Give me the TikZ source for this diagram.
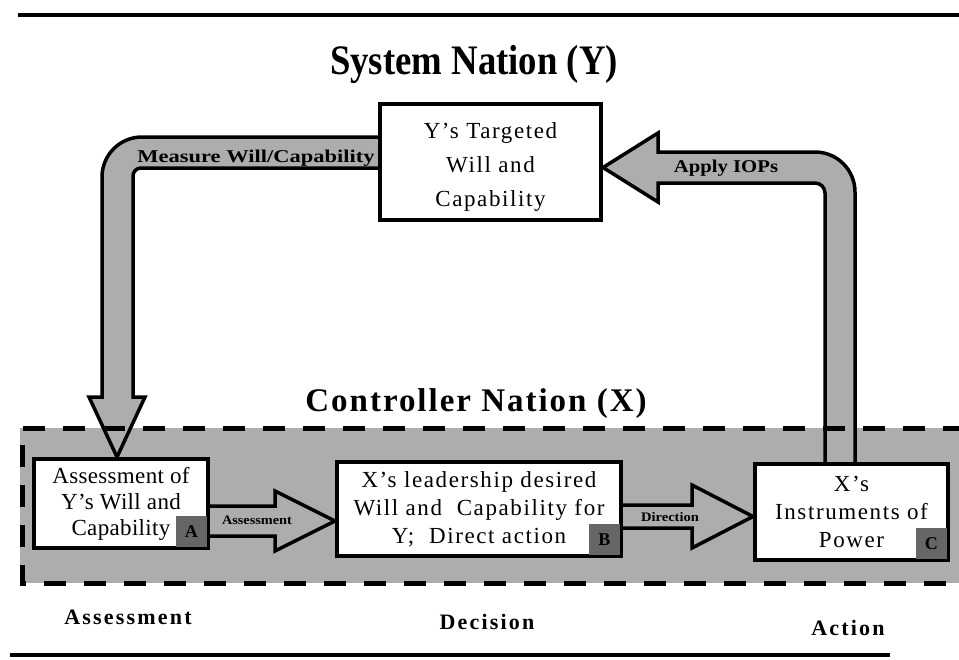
\documentclass[tikz,border=0pt]{standalone}
\usepackage{fontspec}
\usepackage{graphicx}
\setmainfont{Liberation Serif}
\newfontfamily\boxfont[LetterSpace=7]{Liberation Serif}
\newfontfamily\boxfontA[LetterSpace=1.5]{Liberation Serif}
\newfontfamily\phasefont[LetterSpace=10]{Liberation Serif}
\newfontfamily\ctrlfont[LetterSpace=6]{Liberation Serif}
\usetikzlibrary{calc}
\definecolor{halftone}{gray}{0.68}
\definecolor{tagfill}{gray}{0.40}
\begin{document}
\begin{tikzpicture}[x=1pt,y=-1pt,
  box/.style={draw, line width=4pt, fill=white, align=center, inner sep=0pt},
  fat/.style={draw, line width=3.5pt, fill=halftone, line join=miter},
  tag/.style={fill=tagfill, minimum width=31pt, minimum height=31pt, inner sep=0pt,
    anchor=south east, font=\bfseries\fontsize{18}{18}\selectfont},
  flowlabel/.style={inner sep=0pt, font=\bfseries\fontsize{18}{18}\selectfont},
  smalllabel/.style={inner sep=0pt, font=\bfseries\fontsize{13}{13}\selectfont},
  phase/.style={inner sep=0pt, font=\phasefont\bfseries\fontsize{22}{22}\selectfont},
  rule/.style={line width=4pt},
  region/.style={line width=5pt, dash pattern=on 22pt off 18pt}]
\useasboundingbox (0,0) rectangle (959,659);

% horizontal rules
\draw[rule] (18,15) -- (959,15);
\draw[rule] (10,655) -- (890,655);

% controller nation region (fill)
\fill[halftone] (20,428) rectangle (965,583);

% titles
\node[font=\bfseries\fontsize{42}{42}\selectfont] (sysTitle) at (474,64)
  {\scalebox{0.875}[1]{System Nation (Y)}};
\node[font=\ctrlfont\bfseries\fontsize{33}{33}\selectfont] (ctrlTitle) at (476,404)
  {Controller Nation (X)};

% boxes (placed first so the arrows can refer to them)
\node[box, minimum width=221, minimum height=116] (Y) at (490.5,162) {};
\node[box, minimum width=174, minimum height=89,
  font=\boxfontA\fontsize{23}{26}\selectfont] (A) at (121,503.5)
  {Assessment of\\Y’s Will and\\Capability};
\node[box, minimum width=284, minimum height=94,
  font=\boxfont\fontsize{23}{28}\selectfont] (B) at (479,509)
  {X’s leadership desired\\Will and\ \ Capability for\\Y;\ \ Direct action};
\node[box, minimum width=193, minimum height=96,
  font=\boxfont\fontsize{23}{28}\selectfont] (C) at (851.5,512)
  {X’s\\Instruments of\\Power};

% measure arrow: Y -> A
\draw[fat] (Y.west |- 0,168) -- (141,168)
  .. controls (136.6,168) and (133,171.6) .. (133,176)
  -- (133,397) -- (145,397) -- (A.north -| 117,0) -- (89,397) -- (102,397)
  -- (102,177) .. controls (102,154.9) and (119.9,137) .. (142,137)
  -- (Y.west |- 0,137);

% apply arrow: C -> Y
\draw[fat] (C.north -| 825,0) -- (825,193)
  .. controls (825,187.5) and (820.5,183) .. (815,183)
  -- (658,183) -- (658,202) -- (Y.east |- 0,167.5) -- (658,133) -- (658,152)
  -- (815,152) .. controls (837.1,152) and (855,169.9) .. (855,192)
  -- (C.north -| 855,0);

% assessment arrow: A -> B
\draw[fat] (A.east |- 0,506) -- (275,506) -- (275,491) -- (B.west |- 0,521)
  -- (275,551) -- (275,536) -- (A.east |- 0,536);

% direction arrow: B -> C
\draw[fat] (B.east |- 0,505) -- (692,505) -- (692,485) -- (C.west |- 0,516.5)
  -- (692,548) -- (692,528) -- (B.east |- 0,528);

% dashed border of the controller region
\draw[region] (965,428) -- (22,428) -- (22,583) -- (965,583);

% redraw boxes on top of arrow ends
\node[box, minimum width=221, minimum height=116] at (Y) {};
\node[box, minimum width=174, minimum height=89,
  font=\boxfontA\fontsize{23}{26}\selectfont] at (A)
  {Assessment of\\Y’s Will and\\Capability};
\node[box, minimum width=284, minimum height=94,
  font=\boxfont\fontsize{23}{28}\selectfont] at (B)
  {X’s leadership desired\\Will and\ \ Capability for\\Y;\ \ Direct action};
\node[box, minimum width=193, minimum height=96,
  font=\boxfont\fontsize{23}{28}\selectfont] at (C)
  {X’s\\Instruments of\\Power};
\node[inner sep=0pt, align=center, font=\boxfont\fontsize{23}{34}\selectfont]
  (Ytext) at (490.5,167) {Y’s Targeted\\Will and\\Capability};

% corner tags
\node[tag] (tagA) at ($(A.south east)+(-3,-3)$) {A};
\node[tag] (tagB) at ($(B.south east)+(-3,-3)$) {B};
\node[tag] (tagC) at ($(C.south east)+(-3,-3)$) {C};

% arrow labels
\node[flowlabel] (lblMeasure) at (256,158)
  {\scalebox{1.25}[1]{Measure Will/Capability}};
\node[flowlabel] (lblApply) at (726,168)
  {\scalebox{1.15}[1]{Apply IOPs}};
\node[smalllabel] (lblAssess) at (257,520)
  {\scalebox{1.1}[1]{Assessment}};
\node[smalllabel] (lblDir) at (670,517)
  {\scalebox{1.12}[1]{Direction}};

% phase captions
\node[phase] (phA) at (128,617) {Assessment};
\node[phase] (phD) at (487,622) {Decision};
\node[phase] (phC) at (848,628) {Action};
\end{tikzpicture}
\end{document}
